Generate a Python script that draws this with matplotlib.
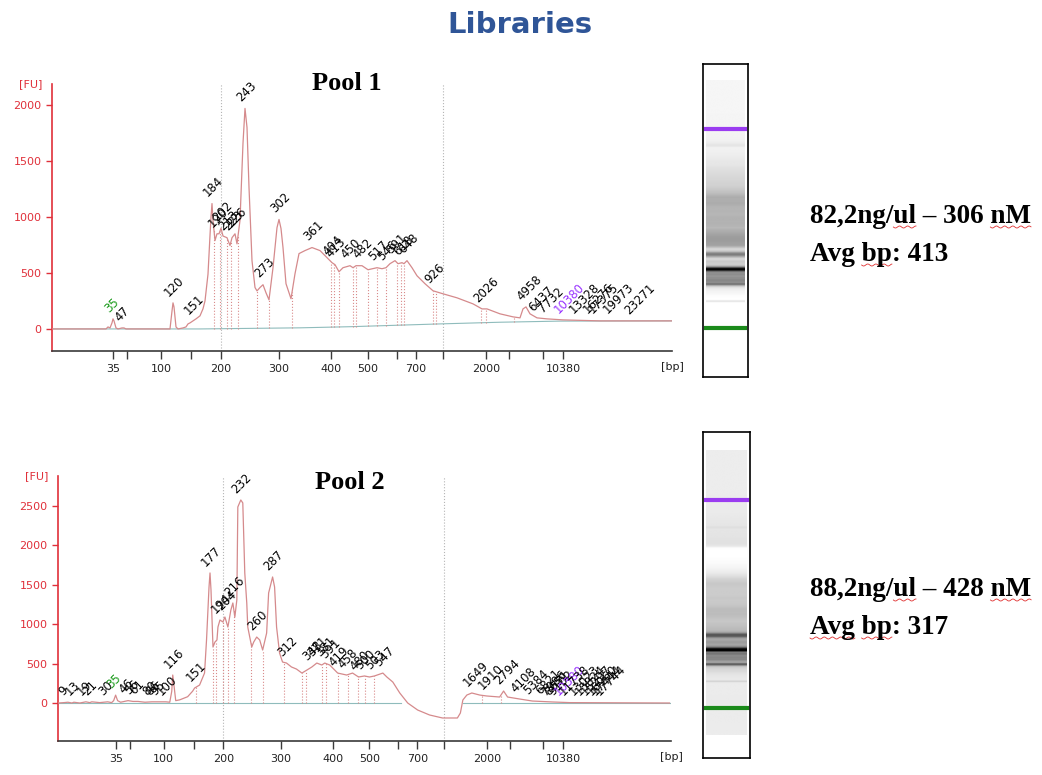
import numpy as np
import matplotlib
matplotlib.use('Agg')
import matplotlib.pyplot as plt
from matplotlib.font_manager import FontProperties

# Ладдер: размеры (bp) и время миграции (s)
ladder_bp = [35, 50, 100, 150, 200, 300, 400, 500, 600, 700, 1000, 2000, 3000, 7000, 10380]
ladder_t = [22.6, 25.4, 32.2, 38.2, 44.2, 55.8, 66.2, 73.6, 79.4, 83.2, 88.6, 97.2, 101.8, 108.6, 112.6]
ladder_labels = ['35', '', '100', '', '200', '300', '400', '500', '', '700', '', '2000', '', '', '10380']
region_t = [44.2, 88.6]   # 200 bp и 1000 bp

# POOL 1
t1 = [10.4, 21.2, 21.6, 22.0, 22.4, 22.6, 22.8, 23.2, 23.6, 24.4, 24.8, 25.2, 34.0, 34.4, 34.6, 34.8,
      35.2, 35.6, 36.6, 37.2, 37.6, 38.0, 38.6, 39.2, 40.0, 40.6, 41.0, 41.6, 42.0, 42.2, 42.4, 42.6,
      43.0, 43.4, 43.8, 44.2, 44.6, 45.4, 46.0, 46.4, 47.0, 47.4, 48.0, 48.6, 49.0, 49.4, 49.8, 50.4,
      51.0, 51.4, 52.0, 52.6, 53.2, 53.8, 54.6, 55.4, 55.8, 56.2, 56.6, 57.2, 58.2, 59.0, 59.8, 61.0,
      62.4, 64.0, 65.6, 66.4, 67.0, 67.8, 68.6, 70.0, 70.6, 71.2, 72.4, 73.6, 75.4, 76.4, 77.2, 78.0,
      79.0, 79.6, 80.4, 80.8, 81.4, 82.4, 83.4, 85.0, 86.6, 88.6, 91.4, 94.6, 96.4, 97.4, 100.0, 102.6,
      104.0, 104.6, 105.2, 106.0, 107.4, 109.4, 112.6, 120.0, 134.4]
fu1 = [0, 0, 18, 9, 54, 90, 72, 9, 0, 9, 9, 0, 0, 160, 233, 197,
       18, 0, 9, 18, 45, 54, 72, 90, 117, 180, 250, 490, 835, 1000, 1120, 970,
       790, 850, 850, 900, 830, 815, 745, 815, 850, 760, 970, 1660, 1970, 1800, 1265, 610,
       370, 340, 370, 395, 323, 260, 547, 905, 978, 897, 727, 404, 270, 493, 673, 700,
       727, 700, 628, 592, 574, 511, 547, 565, 547, 565, 565, 529, 547, 538, 547, 583,
       610, 583, 592, 583, 610, 547, 475, 404, 341, 314, 278, 224, 179, 179, 135, 108,
       99, 179, 197, 135, 99, 90, 81, 72, 72]
base1_t = [10.4, 40.0, 60.0, 70.0, 88.0, 100.0, 112.0, 134.4]
base1_fu = [0, 0, 10, 20, 45, 60, 70, 72]
cuts1 = [42.8, 44.0, 45.4, 46.2, 47.6, 51.4, 53.8, 58.4, 66.2, 66.8, 67.8, 70.6, 71.2, 73.6, 75.4,
         77.2, 79.4, 80.2, 80.8, 86.6, 87.2, 96.2, 97.2, 102.8]
peaks1_lbl = ['35', '47', '120', '151', '184', '190', '202', '213', '223', '226', '243', '273', '302',
              '361', '404', '413', '450', '482', '517', '546', '591', '618', '648', '926', '2026',
              '4958', '6437', '7732', '10380', '13328', '16276', '17375', '19973', '23271']
peaks1_t = [22.6, 24.8, 34.6, 38.6, 42.4, 43.4, 44.2, 45.4, 46.4, 47.0, 49.0, 52.6, 55.8,
            62.4, 66.4, 67.0, 70.0, 72.4, 75.4, 77.2, 79.0, 80.4, 81.4, 86.6, 96.4,
            105.2, 107.4, 109.4, 112.6, 115.6, 118.4, 119.4, 122.4, 126.6]
peaks1_fu = [90, 9, 233, 72, 1120, 850, 900, 815, 815, 850, 1970, 395, 978,
             727, 592, 574, 565, 565, 547, 547, 610, 592, 610, 341, 179,
             197, 99, 90, 81, 78, 76, 76, 74, 72]

# POOL 2
t2 = [10.9, 12.1, 12.9, 13.7, 14.1, 15.3, 16.5, 17.3, 17.7, 19.3, 20.9, 21.7, 22.1, 22.5, 22.9, 23.5,
      25.0, 26.0, 27.0, 28.4, 29.8, 30.4, 31.4, 32.6, 33.4, 33.8, 34.0, 34.2, 34.6, 35.4, 37.0, 38.0,
      38.4, 39.4, 40.4, 40.8, 41.3, 41.5, 41.7, 42.1, 42.5, 42.9, 43.1, 43.5, 44.1, 44.5, 45.1, 45.7,
      46.1, 46.5, 46.9, 47.1, 47.7, 48.1, 48.5, 48.9, 49.1, 49.9, 50.3, 50.9, 51.5, 52.1, 52.9, 53.3,
      54.1, 54.5, 54.9, 55.5, 56.1, 56.9, 57.9, 58.9, 60.0, 61.0, 62.0, 63.0, 64.0, 64.6, 65.6, 67.2,
      69.0, 70.2, 71.4, 72.6, 73.6, 74.6, 76.3, 77.1, 78.3, 79.7, 81.3, 83.3, 85.7, 88.3, 91.3, 91.9,
      92.4, 93.2, 94.2, 95.8, 97.2, 99.8, 100.6, 101.4, 103.8, 106.4, 110.5, 113.9, 134.0]
fu2 = [0, 5, 10, 0, 10, 0, 15, 5, 15, 5, 15, 5, 30, 100, 30, 10,
       30, 20, 20, 10, 15, 15, 15, 15, 10, 150, 355, 250, 30, 40, 80, 150,
       190, 228, 380, 800, 1470, 1650, 1434, 710, 774, 800, 964, 1053, 1028, 1091, 964, 1180,
       1269, 1091, 1307, 2487, 2576, 2538, 1650, 1269, 964, 710, 774, 837, 800, 672, 888, 1396,
       1599, 1472, 964, 634, 520, 507, 457, 431, 380, 418, 457, 507, 482, 507, 482, 380,
       355, 380, 330, 343, 330, 343, 380, 330, 266, 127, 0, -89, -152, -190, -190, -127,
       38, 101, 127, 101, 89, 76, 152, 76, 51, 25, 13, 5, 0]
base2_t = [10.9, 80.0, np.nan, 92.4, 134.0]
base2_fu = [0, 0, np.nan, 0, 0]
cuts2 = [38.6, 42.1, 42.7, 44.1, 45.1, 46.3, 49.7, 52.1, 56.3, 60.0, 60.8, 64.0, 64.8, 67.2, 69.2,
         71.2, 72.8, 74.6, 96.2, 100.0]
peaks2_lbl = ['9', '13', '19', '21', '30', '35', '46', '56', '61', '80', '86', '95', '100', '116',
              '151', '177', '194', '204', '216', '232', '260', '287', '312', '348', '371', '381',
              '391', '419', '458', '480', '500', '503', '547', '1649', '1910', '2794', '4108',
              '5384', '6821', '7986', '8651', '9102', '10380', '11738', '13023', '13824', '15297',
              '16960', '17444', '17744']
peaks2_t = [12.9, 14.1, 16.5, 17.7, 20.9, 22.5, 25.0, 26.0, 27.0, 29.8, 30.4, 31.4, 32.6, 34.0,
            38.4, 41.5, 43.5, 44.5, 46.1, 47.7, 50.9, 54.1, 56.9, 62.0, 63.0, 64.6,
            65.6, 67.2, 69.0, 71.4, 72.6, 74.6, 76.3, 94.2, 97.2, 100.6, 103.8,
            106.4, 108.8, 109.9, 110.7, 111.5, 112.5, 113.5, 115.5, 116.7, 117.9,
            119.1, 119.9, 120.7]
peaks2_fu = [10, 10, 15, 15, 15, 100, 30, 20, 20, 15, 15, 15, 15, 355,
             190, 1650, 1053, 1091, 1269, 2576, 837, 1599, 507, 457, 507, 507,
             482, 380, 355, 330, 343, 343, 380, 127, 89, 152, 51,
             25, 18, 15, 13, 12, 10, 8, 6, 5, 5,
             4, 4, 4]

# Подписи справа: текст и слова, подчёркнутые проверкой орфографии
info_text = ['82,2ng/ul \u2013 306 nM', 'Avg bp: 413', '88,2ng/ul \u2013 428 nM', 'Avg bp: 317']
info_marked = [['ul', 'nM'], ['bp'], ['ul', 'nM'], ['Avg', 'bp']]

RED = '#e0303a'
CURVE = '#d58a8c'
W, H = 1042, 775


def px_box(x0, y0, x1, y1):
    return [x0 / W, 1 - y1 / H, (x1 - x0) / W, (y1 - y0) / H]


def draw_epg(ax, t, fu, bt, bfu, cuts, lbl, pt, pfu, ylim, yticks, xlim):
    ax.plot(bt, bfu, color='#8fbcbc', lw=0.8, zorder=2)
    ax.plot(t, fu, color=CURVE, lw=0.9, zorder=3)
    cut_top = np.interp(cuts, t, fu)
    cut_bot = np.interp(cuts, [b for b in bt if not np.isnan(b)], [b for b in bfu if not np.isnan(b)])
    ax.vlines(cuts, cut_bot, cut_top, colors='#d98a8a', linestyles=':', lw=0.8, zorder=2)
    for x in region_t:
        ax.axvline(x, color='#b5b5b5', ls=':', lw=0.8, zorder=1)
    for s, x, y in zip(lbl, pt, pfu):
        c = 'black'
        if s == '35':
            c = '#1a9a1a'
        elif s == '10380':
            c = '#9933ff'
        ax.annotate(s, (x, y), xytext=(-1.5, 3), textcoords='offset points', rotation=45,
                    rotation_mode='anchor', ha='left', va='bottom', fontsize=8.5, color=c,
                    zorder=4)
    ax.set_xlim(*xlim)
    ax.set_ylim(*ylim)
    ax.set_yticks(yticks)
    ax.set_xticks(ladder_t)
    ax.set_xticklabels(ladder_labels)
    for s in ['top', 'right']:
        ax.spines[s].set_visible(False)
    ax.spines['left'].set_color(RED)
    ax.spines['left'].set_linewidth(1.2)
    ax.spines['bottom'].set_color('#3a3a3a')
    ax.spines['bottom'].set_linewidth(1.2)
    ax.tick_params(axis='y', colors=RED, labelsize=8, length=4, width=1)
    ax.tick_params(axis='x', colors='#3a3a3a', labelcolor='#222222', labelsize=8, length=6,
                   width=1, pad=3)
    ax.text(-0.015, 1.0, '[FU]', transform=ax.transAxes, ha='right', va='center',
            color=RED, fontsize=8)
    ax.text(1.0, -0.06, '[bp]', transform=ax.transAxes, ha='center', va='center',
            color='#222222', fontsize=8)


def draw_gel(gax, t, fu, lane_x, ylim):
    grid = np.linspace(t[0], t[-1], 900)
    prof = np.interp(grid, t, fu)
    v = np.clip((prof - prof.min()) / (0.95 * (prof.max() - prof.min())), 0, 1)
    gax.imshow(v[:, None], cmap='gray_r', vmin=0, vmax=1, aspect='auto', origin='lower',
               extent=(lane_x[0], lane_x[1], grid[0], grid[-1]), interpolation='bilinear')
    gax.axhline(ladder_t[-1], xmin=lane_x[0], xmax=lane_x[1], color='#9a3cf0', lw=3)
    gax.axhline(ladder_t[0], xmin=lane_x[0], xmax=lane_x[1], color='#1a8a1a', lw=3)
    gax.set_xlim(0, 1)
    gax.set_ylim(*ylim)
    gax.set_xticks([])
    gax.set_yticks([])
    for s in gax.spines.values():
        s.set_color('black')
        s.set_linewidth(1.2)


def squiggle(fig, x0, x1, y):
    xs = np.linspace(x0, x1, int((x1 - x0) * 1.5) + 2)
    ys = y + 1.0 * np.sin((xs - x0) / 1.3)
    fig.add_artist(plt.Line2D(xs / W, 1 - ys / H, color='#e03030', lw=0.6,
                              transform=fig.transFigure))


fig = plt.figure(figsize=(10.42, 7.75), dpi=100)

ax1 = fig.add_axes(px_box(52, 84, 672, 351))
draw_epg(ax1, t1, fu1, base1_t, base1_fu, cuts1, peaks1_lbl, peaks1_t, peaks1_fu,
         (-197, 2188), [0, 500, 1000, 1500, 2000], (10.4, 134.4))

ax2 = fig.add_axes(px_box(58, 476, 671, 741))
draw_epg(ax2, t2, fu2, base2_t, base2_fu, cuts2, peaks2_lbl, peaks2_t, peaks2_fu,
         (-482, 2880), [0, 500, 1000, 1500, 2000, 2500], (10.9, 134.3))

g1 = fig.add_axes(px_box(703, 64, 748, 377))
draw_gel(g1, t1, fu1, (0.067, 0.933), (0.44, 142.0))
g2 = fig.add_axes(px_box(703, 432, 750, 758))
draw_gel(g2, t2, fu2, (0.064, 0.936), (0.96, 142.0))

fig.text(520 / W, 1 - 25 / H, 'Libraries', ha='center', va='center', color='#2f5597',
         fontsize=21, fontweight='bold')
fig.text(347 / W, 1 - 84 / H, 'Pool 1', ha='center', va='center', fontsize=19,
         fontweight='bold', family='Liberation Serif')
fig.text(350 / W, 1 - 483 / H, 'Pool 2', ha='center', va='center', fontsize=19,
         fontweight='bold', family='Liberation Serif')

fp = FontProperties(family='Liberation Serif', weight='bold', size=19.5)
renderer = fig.canvas.get_renderer()
x_left = 810
for s, marks, yb in zip(info_text, info_marked, [223, 261, 596, 634]):
    fig.text(x_left / W, 1 - yb / H, s, ha='left', va='baseline', fontproperties=fp)
    for m in marks:
        i = s.index(m)
        a = renderer.get_text_width_height_descent(s[:i].replace(' ', '\u00a0'), fp, ismath=False)[0] if i else 0
        b = renderer.get_text_width_height_descent(s[:i + len(m)].replace(' ', '\u00a0'), fp, ismath=False)[0]
        squiggle(fig, x_left + a, x_left + b, yb + 4)

fig.savefig('out.png', dpi=100)
